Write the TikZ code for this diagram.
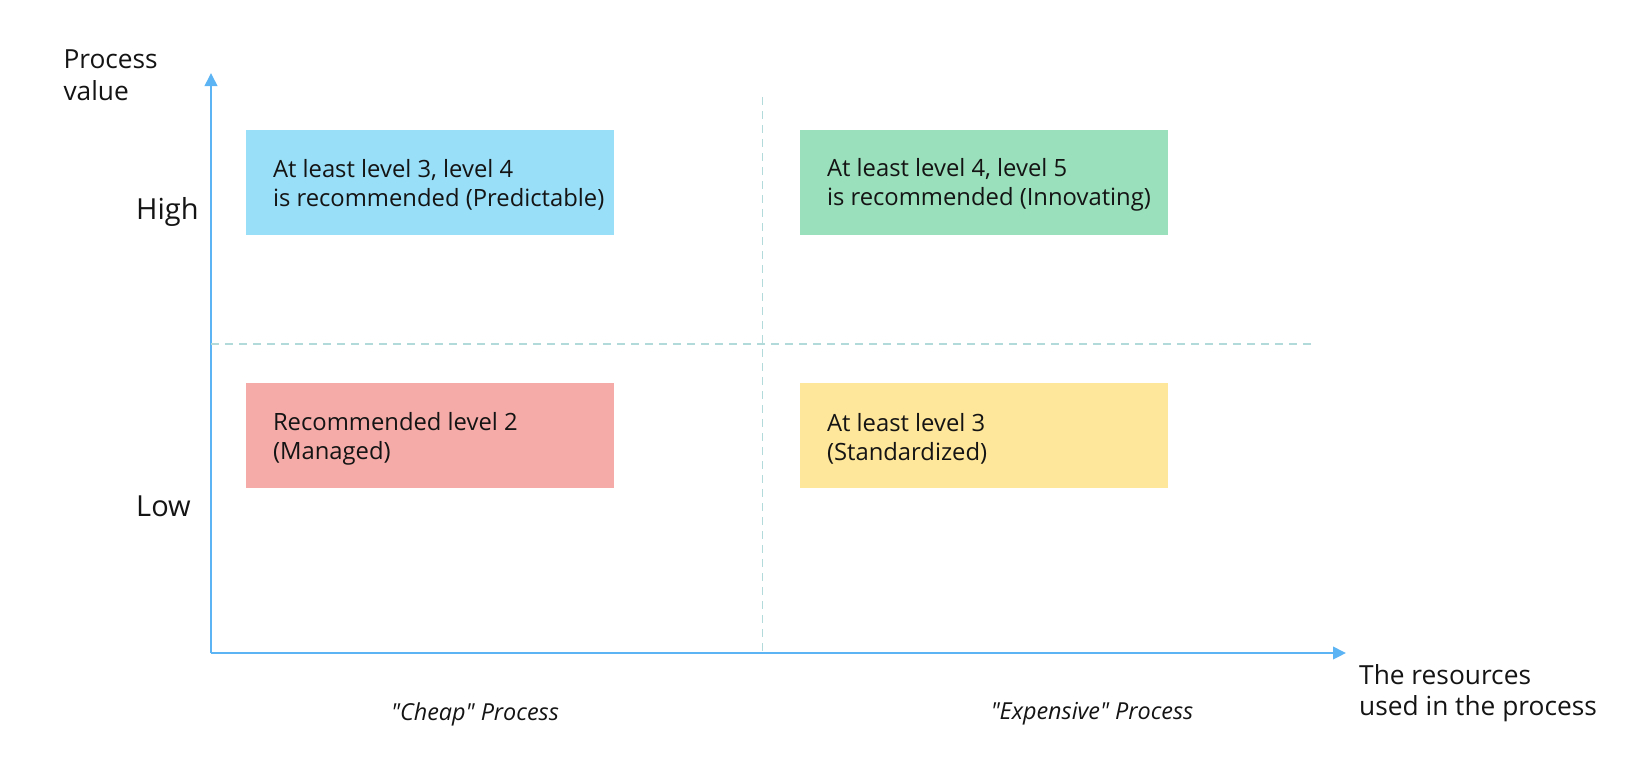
\documentclass[tikz,border=0pt]{standalone}
\usepackage{fontspec}
\setmainfont{Open Sans}
\usetikzlibrary{arrows.meta,positioning}
\definecolor{axisblue}{HTML}{5DB4F4}
\definecolor{gridteal}{HTML}{B3DADB}
\definecolor{boxblue}{HTML}{9ADFF8}
\definecolor{boxgreen}{HTML}{9BE0BC}
\definecolor{boxred}{HTML}{F5ACA9}
\definecolor{boxyellow}{HTML}{FEE69A}
\definecolor{ink}{HTML}{141414}

\begin{document}
\begin{tikzpicture} [x=1pt,y=-1pt,
    axis/.style={draw=axisblue,line width=2pt,-{Triangle[length=13pt,width=12.5pt]}},
    grid/.style={draw=gridteal,line width=1.3pt,dash pattern=on 7.5pt off 6.5pt},
    level/.style={fill=#1,minimum width=368pt,minimum height=105pt,inner sep=0pt},
    leveltext/.style={anchor=west,inner sep=0pt,align=left,
        font=\fontsize{23.8}{29}\selectfont,text=ink},
    ticklabel/.style={font=\fontsize{29}{34}\selectfont,text=ink,anchor=base west,inner sep=0pt},
    title/.style={font=\fontsize{26.3}{31.5}\selectfont,text=ink,align=left,
        anchor=north west,inner sep=0pt},
    group/.style={font=\fontsize{23.4}{28}\itshape\selectfont,text=ink}]
       \useasboundingbox (0,0) rectangle (1645,782);
       % axes
       \coordinate (origin) at (211,653);
       \coordinate (ytip) at (211,73);
       \coordinate (xtip) at (1346,653);
       \draw [axis] (origin) -- (ytip);
       \draw [axis] (origin) -- (xtip);
       % quadrant lines
       \coordinate (vtop) at (762.5,97);
       \coordinate (vbot) at (762.5,653);
       \coordinate (hleft) at (211,344);
       \coordinate (hright) at (1313,344);
       \draw [grid] (vtop) -- (vbot);
       \draw [grid] (hleft) -- (hright);
       % boxes
       \node [level=boxblue] (predictable) at (429.5,182.5) {};
       \node [level=boxgreen] (innovating) at (983.5,182.5) {};
       \node [level=boxred] (managed) at (429.5,435.5) {};
       \node [level=boxyellow] (standardized) at (983.5,435.5) {};
       \node [leveltext] (predictabletext) at ([shift={(27.5,2)}]predictable.west)
         {At least level 3, level 4\\is recommended (Predictable)};
       \node [leveltext] (innovatingtext) at ([shift={(27.5,2)}]innovating.west)
         {At least level 4, level 5\\is recommended (Innovating)};
       \node [leveltext] (managedtext) at ([shift={(27.5,3)}]managed.west)
         {Recommended level 2\\(Managed)};
       \node [leveltext] (standardizedtext) at ([shift={(27.5,3)}]standardized.west)
         {At least level 3\\(Standardized)};
       % labels
       \node [ticklabel] (high) at (136,219) {High};
       \node [ticklabel] (low) at (136,516) {Low};
       \node [title] (yname) at (63.3,49.7) {Process\\value};
       \node [title] (xname) at (1359,664.2) {The resources\\used in the process};
       \node [group] (cheap) at (475,714)
         {\textquotedbl Cheap\textquotedbl{} Process};
       \node [group] (expensive) at (1092,714)
         {\textquotedbl Expensive\textquotedbl{} Process};
    \end{tikzpicture}
\end{document}
